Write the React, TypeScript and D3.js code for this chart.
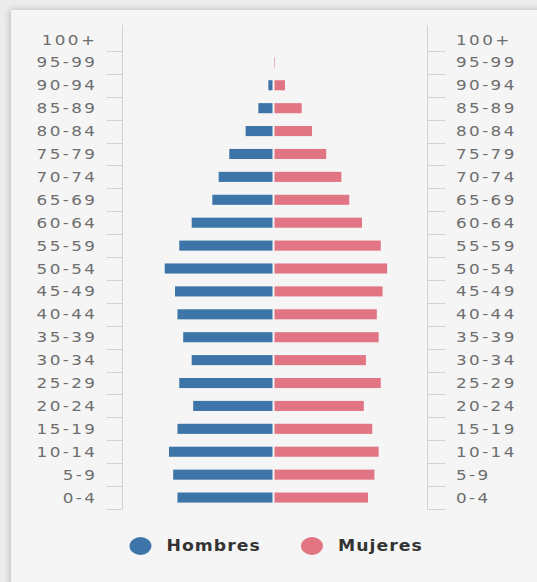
import React from 'react'
import * as d3 from 'd3'

// population pyramid, % of total population per age group
const ageGroups = [
  '100+', '95-99', '90-94', '85-89', '80-84', '75-79', '70-74', '65-69', '60-64', '55-59',
  '50-54', '45-49', '40-44', '35-39', '30-34', '25-29', '20-24', '15-19', '10-14', '5-9', '0-4',
]
const hombres = [
  0.01, 0.02, 0.17, 0.5, 0.92, 1.46, 1.81, 2.02, 2.7, 3.11,
  3.59, 3.25, 3.17, 2.98, 2.7, 3.11, 2.65, 3.17, 3.45, 3.31, 3.17,
]
const mujeres = [
  0.01, 0.05, 0.38, 0.93, 1.27, 1.74, 2.24, 2.5, 2.92, 3.54,
  3.75, 3.6, 3.41, 3.47, 3.05, 3.54, 2.98, 3.26, 3.47, 3.33, 3.12,
]
const seriesNames = ['Hombres', 'Mujeres']
const colors = ['#3d75a8', '#e27584']

const App = () => {
  const ref = React.useRef<SVGSVGElement | null>(null)

  React.useEffect(() => {
    const width = 537
    const height = 582
    const svg = d3.select(ref.current)
    svg.selectAll('*').remove()

    const defs = svg.append('defs')
    const f = defs.append('filter').attr('id', 'shadow').attr('x', '-5%').attr('y', '-5%').attr('width', '110%').attr('height', '110%')
    f.append('feDropShadow').attr('dx', -1).attr('dy', 0).attr('stdDeviation', 3).attr('flood-color', '#000').attr('flood-opacity', 0.22)

    // page + card
    svg.append('rect').attr('width', width).attr('height', height).attr('fill', '#ececec')
    svg.append('rect')
      .attr('x', 11).attr('y', 10)
      .attr('width', width).attr('height', height)
      .attr('fill', '#f5f5f5')
      .attr('filter', 'url(#shadow)')

    const xScale = d3.scaleLinear().domain([-5, 5]).range([122, 425])
    const yScale = d3.scaleBand().domain(ageGroups).range([28, 509]).paddingInner(0.56).paddingOuter(0.28)
    const step = yScale.step()
    const bw = yScale.bandwidth()
    const x0 = xScale(0)

    const rows = ageGroups.map((a, i) => ({ age: a, h: hombres[i], m: mujeres[i] }))

    // axes lines + ticks
    const axisColor = '#cfd3d8'
    const leftX = 122.5
    const rightX = 427.5
    ;[
      { x: leftX, t: -16 },
      { x: rightX, t: 18 },
    ].forEach((ax) => {
      svg.append('line')
        .attr('x1', ax.x).attr('x2', ax.x)
        .attr('y1', 25).attr('y2', 509)
        .attr('stroke', axisColor)
      svg.selectAll(null)
        .data(ageGroups)
        .enter()
        .append('line')
        .attr('x1', ax.x).attr('x2', ax.x + ax.t)
        .attr('y1', (d) => Math.round(yScale(d)! + bw + (step - bw) / 2) + 0.5)
        .attr('y2', (d) => Math.round(yScale(d)! + bw + (step - bw) / 2) + 0.5)
        .attr('stroke', axisColor)
    })

    // bars
    svg.selectAll('.bar-h')
      .data(rows)
      .enter()
      .append('rect')
      .attr('class', 'bar-h')
      .attr('x', (d) => xScale(-d.h))
      .attr('y', (d) => yScale(d.age)!)
      .attr('width', (d) => Math.max(0, x0 - xScale(-d.h) - 1))
      .attr('height', bw)
      .attr('fill', colors[0])

    svg.selectAll('.bar-m')
      .data(rows)
      .enter()
      .append('rect')
      .attr('class', 'bar-m')
      .attr('x', x0 + 1)
      .attr('y', (d) => yScale(d.age)!)
      .attr('width', (d) => Math.max(0, xScale(d.m) - x0 - 1))
      .attr('height', bw)
      .attr('fill', colors[1])

    // labels (stretched a little, like the source image)
    const ls = 2
    const sx = 1.2
    const labels = (cls: string, x: number, anchor: string) => {
      svg.selectAll('.' + cls)
        .data(ageGroups)
        .enter()
        .append('g')
        .attr('class', cls)
        .attr('transform', (d) => `translate(${x},${yScale(d)! + bw / 2}) scale(${sx},1)`)
        .append('text')
        .attr('x', anchor === 'end' ? ls : 0)
        .attr('dy', '0.36em')
        .attr('text-anchor', anchor)
        .attr('font-family', 'DejaVu Sans, sans-serif')
        .attr('font-size', 14)
        .attr('letter-spacing', ls)
        .attr('fill', '#6e6e6e')
        .text((d) => d)
    }
    labels('lab-l', 95, 'end')
    labels('lab-r', 456, 'start')

    // legend
    const legendX = [140.5, 312]
    const leg = svg.selectAll('.legend')
      .data(seriesNames)
      .enter()
      .append('g')
      .attr('class', 'legend')
      .attr('transform', (d, i) => `translate(${legendX[i]},546)`)
    leg.append('ellipse')
      .attr('rx', 11).attr('ry', 9)
      .attr('fill', (d, i) => colors[i])
    leg.append('text')
      .attr('transform', 'translate(26,0) scale(1.15,1)')
      .attr('dy', '0.36em')
      .attr('font-family', 'DejaVu Sans, sans-serif')
      .attr('font-weight', 'bold')
      .attr('font-size', 15)
      .attr('letter-spacing', 0.9)
      .attr('fill', '#333')
      .text((d) => d)
  }, [])

  return (
    <div style={{ position: 'absolute', left: 0, top: 0, width: 537, height: 582, overflow: 'hidden' }}>
      <svg ref={ref} width={537} height={582} style={{ display: 'block' }}></svg>
    </div>
  )
}

export default App
